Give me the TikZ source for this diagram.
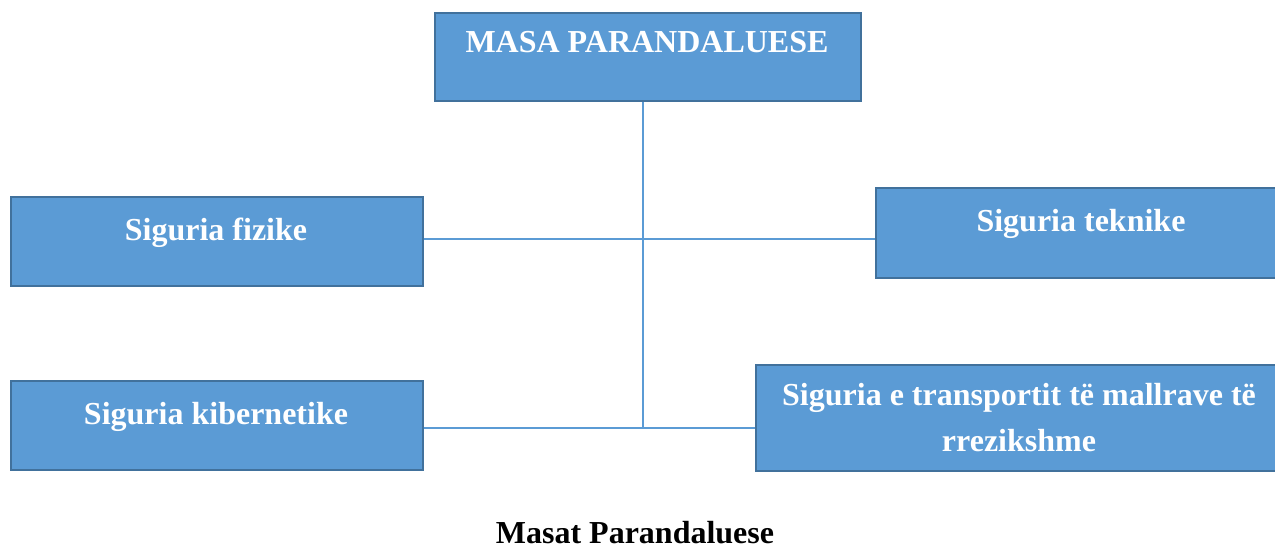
\documentclass[tikz,border=0pt]{standalone}
\usepackage{fontspec}
\setmainfont{Liberation Serif}
\definecolor{boxfill}{HTML}{5B9BD5}
\definecolor{boxline}{HTML}{41719C}
\begin{document}
\begin{tikzpicture}[x=1pt,y=-1pt,
  box/.style={draw=boxline,fill=boxfill,line width=2.2pt,rectangle,inner sep=0pt,anchor=north west},
  boxtext/.style={anchor=base,text=white,font=\fontsize{32}{38}\selectfont\bfseries,inner sep=0pt},
  link/.style={draw=boxfill,line width=1.8pt}]
\useasboundingbox (0,0) rectangle (1275,548);
% boxes
\node[box,minimum width=426pt,minimum height=88pt] (top) at (434,12) {};
\node[box,minimum width=412pt,minimum height=89pt] (fiz) at (10,196) {};
\node[box,minimum width=412pt,minimum height=90pt] (tek) at (875,187) {};
\node[box,minimum width=412pt,minimum height=89pt] (kib) at (10,380) {};
\node[box,minimum width=530pt,minimum height=106pt] (tra) at (755,364) {};
% texts
\node[boxtext] (ttop) at (647,53) {MASA PARANDALUESE};
\node[boxtext] (tfiz) at (216,241) {Siguria fizike};
\node[boxtext] (ttek) at (1081,232) {Siguria teknike};
\node[boxtext] (tkib) at (216,424) {Siguria kibernetike};
\node[boxtext] (ttra1) at (1019,405) {Siguria e transportit të mallrave të};
\node[boxtext] (ttra2) at (1019,451) {rrezikshme};
% connectors
\coordinate (j1) at (643,239);
\coordinate (j2) at (643,428);
\draw[link] (j1 |- top.south) -- (j2);
\draw[link] (fiz.east |- j1) -- (tek.west |- j1);
\draw[link] (kib.east |- j2) -- (j2) -- (tra.west |- j2);
% caption
\node[anchor=base,inner sep=0pt,font=\fontsize{32}{38}\selectfont\bfseries] (cap) at (635,543) {Masat Parandaluese};
\end{tikzpicture}
\end{document}
